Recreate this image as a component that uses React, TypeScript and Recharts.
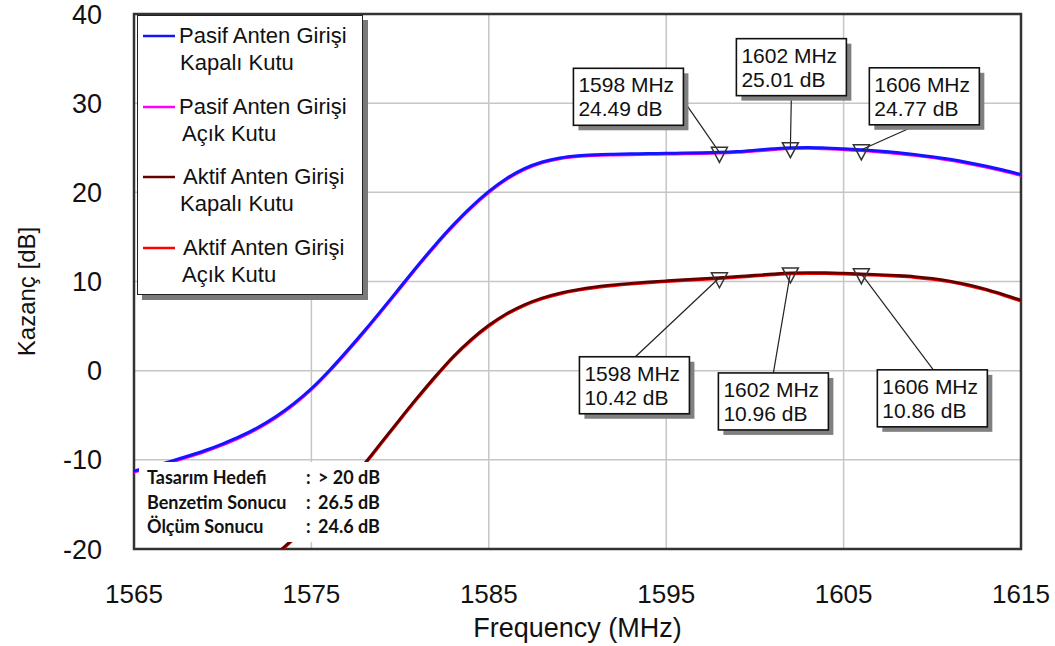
import React from "react";
import {
  LineChart,
  Line,
  XAxis,
  YAxis,
  CartesianGrid,
  ReferenceArea,
  ReferenceDot,
} from "recharts";

// frequency sweep, MHz
const frequencies = [
  1565, 1566, 1567, 1568, 1569, 1570, 1571, 1572, 1573, 1574,
  1575, 1576, 1577, 1578, 1579, 1580, 1581, 1582, 1583, 1584,
  1585, 1586, 1587, 1588, 1589, 1590, 1591, 1592, 1593, 1594,
  1595, 1596, 1597, 1598, 1599, 1600, 1601, 1602, 1603, 1604,
  1605, 1606, 1607, 1608, 1609, 1610, 1611, 1612, 1613, 1614,
  1615,
];

// gain in dB for each frequency
const pasifKapali = [
  -11.25, -10.75, -10.2, -9.6, -8.95, -8.2, -7.35, -6.35, -5.15, -3.7,
  -2.0, 0.0, 2.2, 4.5, 6.9, 9.35, 11.8, 14.15, 16.35, 18.35,
  20.1, 21.55, 22.65, 23.4, 23.85, 24.1, 24.22, 24.28, 24.32, 24.35,
  24.38, 24.41, 24.44, 24.49, 24.58, 24.72, 24.88, 25.01, 25.03, 24.97,
  24.88, 24.77, 24.63, 24.46, 24.25, 24.0, 23.7, 23.35, 22.95, 22.5,
  22.0,
];

const pasifAcik = [
  -11.4, -10.9, -10.35, -9.75, -9.1, -8.35, -7.5, -6.5, -5.3, -3.85,
  -2.15, -0.15, 2.05, 4.35, 6.75, 9.2, 11.65, 14.0, 16.2, 18.2,
  19.95, 21.42, 22.52, 23.28, 23.73, 23.98, 24.1, 24.16, 24.2, 24.23,
  24.26, 24.29, 24.32, 24.37, 24.46, 24.6, 24.76, 24.89, 24.91, 24.85,
  24.76, 24.65, 24.5, 24.33, 24.12, 23.87, 23.56, 23.21, 22.8, 22.35,
  21.85,
];

const aktifKapali = [
  null, null, null, null, null, null, null, null, -20.6, -18.8,
  -16.9, -14.8, -12.65, -10.4, -7.9, -5.4, -2.95, -0.6, 1.6, 3.5,
  5.1, 6.4, 7.4, 8.15, 8.7, 9.1, 9.4, 9.62, 9.8, 9.95,
  10.08, 10.2, 10.31, 10.42, 10.56, 10.7, 10.84, 10.96, 11.0, 10.98,
  10.93, 10.86, 10.78, 10.68, 10.55, 10.35, 10.05, 9.65, 9.15, 8.55,
  7.9,
];

const aktifAcik = [
  null, null, null, null, null, null, null, null, -20.75, -18.95,
  -17.05, -14.95, -12.8, -10.55, -8.05, -5.55, -3.1, -0.75, 1.45, 3.35,
  4.95, 6.27, 7.28, 8.03, 8.58, 8.98, 9.28, 9.5, 9.68, 9.83,
  9.96, 10.08, 10.19, 10.3, 10.44, 10.58, 10.72, 10.84, 10.88, 10.86,
  10.81, 10.74, 10.66, 10.56, 10.43, 10.23, 9.93, 9.53, 9.03, 8.43,
  7.78,
];

const xTicks = [1565, 1575, 1585, 1595, 1605, 1615];
const yTicks = [-20, -10, 0, 10, 20, 30, 40];

const markerFreqs = [1598, 1602, 1606];
const pasifMarkerGains = [24.49, 25.01, 24.77];
const aktifMarkerGains = [10.42, 10.96, 10.86];

const legendLabels = [
  ["Pasif Anten Girişi", "Kapalı Kutu"],
  ["Pasif Anten Girişi", "Açık Kutu"],
  ["Aktif Anten Girişi", "Kapalı Kutu"],
  ["Aktif Anten Girişi", "Açık Kutu"],
];

const summaryRows = [
  ["Tasarım Hedefi", "> 20 dB"],
  ["Benzetim Sonucu", "26.5 dB"],
  ["Ölçüm Sonucu", "24.6 dB"],
];

const COLORS = ["#1414ff", "#ff00ff", "#620000", "#ff0000"];
const FONT = "'Liberation Sans', Arial, sans-serif";

// callout box placement relative to each marker, plus where the leader leaves the box
const upperCallouts = [
  { dx: -146, dy: -84, ax: 110, ay: 32 },
  { dx: -54, dy: -109, ax: 55, ay: 57 },
  { dx: 8, dy: -82, ax: 48, ay: 57 },
];
const lowerCallouts = [
  { dx: -140, dy: 79, ax: 56, ay: 0 },
  { dx: -72, dy: 100, ax: 55, ay: 0 },
  { dx: 16, dy: 96, ax: 56, ay: 0 },
];

const BOX_W = 110;
const BOX_H = 57;

const data = frequencies.map((f, i) => ({
  f,
  pk: pasifKapali[i],
  pa: pasifAcik[i],
  ak: aktifKapali[i],
  aa: aktifAcik[i],
}));

type CalloutLayout = { dx: number; dy: number; ax: number; ay: number };

function Callout(props: {
  cx?: number;
  cy?: number;
  freq: number;
  gain: number;
  layout: CalloutLayout;
}) {
  const { cx, cy, freq, gain, layout } = props;
  if (cx == null || cy == null) return null;
  const bx = cx + layout.dx;
  const by = cy + layout.dy;
  return (
    <g fontFamily={FONT} fontSize={21} fill="#111">
      <line
        x1={bx + layout.ax}
        y1={by + layout.ay}
        x2={cx}
        y2={cy}
        stroke="#222"
        strokeWidth={1.2}
      />
      <rect x={bx + 5} y={by + 5} width={BOX_W} height={BOX_H} fill="#808080" />
      <rect
        x={bx}
        y={by}
        width={BOX_W}
        height={BOX_H}
        fill="#fff"
        stroke="#111"
        strokeWidth={1.6}
      />
      <text x={bx + 5} y={by + 24}>{`${freq} MHz`}</text>
      <text x={bx + 5} y={by + 48}>{`${gain.toFixed(2)} dB`}</text>
      <polygon
        points={`${cx - 8},${cy - 5} ${cx + 8},${cy - 5} ${cx},${cy + 10}`}
        fill="none"
        stroke="#333"
        strokeWidth={1.5}
      />
    </g>
  );
}

function YTick(props: { x?: number; y?: number; payload?: { value: number } }) {
  const { x, y, payload } = props;
  return (
    <text
      x={x}
      y={y}
      dy={9.5}
      textAnchor="end"
      fontFamily={FONT}
      fontSize={27}
      fill="#111"
    >
      {payload?.value}
    </text>
  );
}

function XTick(props: { x?: number; y?: number; payload?: { value: number } }) {
  const { x, y, payload } = props;
  return (
    <text
      x={x}
      y={y}
      dy={54}
      textAnchor="middle"
      fontFamily={FONT}
      fontSize={26}
      fill="#111"
    >
      {payload?.value}
    </text>
  );
}

function LegendBox() {
  const rows = [21, 92, 162, 233];
  const indents = [
    [42, 43],
    [42, 45],
    [46, 43],
    [46, 45],
  ];
  return (
    <div
      style={{
        position: "absolute",
        left: 137,
        top: 15,
        width: 226,
        height: 280,
        background: "#fff",
        border: "1.5px solid #222",
        boxShadow: "5px 5px 0 #7a7a7a",
        boxSizing: "border-box",
      }}
    >
      <svg width={226} height={280} style={{ position: "absolute", left: -1.5, top: -1.5 }}>
        {legendLabels.map((lines, i) => (
          <g key={i} fontFamily={FONT} fontSize={22} fill="#111">
            <line
              x1={6}
              x2={38}
              y1={rows[i]}
              y2={rows[i]}
              stroke={COLORS[i]}
              strokeWidth={2.5}
            />
            <text x={indents[i][0]} y={rows[i] + 7}>{lines[0]}</text>
            <text x={indents[i][1]} y={rows[i] + 34}>{lines[1]}</text>
          </g>
        ))}
      </svg>
    </div>
  );
}

function SummaryBox() {
  return (
    <div
      style={{
        position: "absolute",
        left: 139,
        top: 462,
        width: 262,
        height: 80,
        background: "#fff",
      }}
    >
      <svg width={262} height={80}>
        {summaryRows.map(([name, value], i) => (
          <g
            key={name}
            fontFamily="Lato, 'Open Sans', sans-serif"
            fontWeight={700}
            fontSize={18}
            fill="#111"
          >
            <text x={8} y={22 + i * 24.5}>{name}</text>
            <text x={167} y={22 + i * 24.5}>:</text>
            <text x={179} y={22 + i * 24.5}>{value}</text>
          </g>
        ))}
      </svg>
    </div>
  );
}

export default function App() {
  return (
    <div style={{ position: "relative", width: 1055, height: 646, background: "#fff" }}>
      <style>{"body{margin:0}"}</style>
      <LineChart
        width={1055}
        height={646}
        data={data}
        margin={{ top: 14, right: 34, bottom: 0, left: 0 }}
      >
        <CartesianGrid stroke="#c6c6c6" strokeWidth={1.5} />
        <XAxis
          dataKey="f"
          type="number"
          domain={[1565, 1615]}
          ticks={xTicks}
          allowDataOverflow
          height={97}
          tickLine={false}
          axisLine={false}
          tickSize={0}
          tickMargin={0}
          tick={<XTick />}
          label={{
            content: (p: any) => (
              <text
                x={p.viewBox.x + p.viewBox.width / 2}
                y={637}
                textAnchor="middle"
                fontFamily={FONT}
                fontSize={27}
                fill="#111"
              >
                Frequency (MHz)
              </text>
            ),
          }}
        />
        <YAxis
          type="number"
          domain={[-20, 40]}
          ticks={yTicks}
          allowDataOverflow
          width={134}
          tickLine={false}
          axisLine={false}
          tickSize={0}
          tickMargin={32}
          tick={<YTick />}
          label={{
            content: (p: any) => {
              const cy = p.viewBox.y + p.viewBox.height / 2 + 10;
              return (
                <text
                  x={0}
                  y={0}
                  transform={`translate(35, ${cy}) rotate(-90)`}
                  textAnchor="middle"
                  fontFamily={FONT}
                  fontSize={24}
                  fill="#111"
                >
                  Kazanç [dB]
                </text>
              );
            },
          }}
        />
        <Line
          type="monotone"
          dataKey="pa"
          stroke={COLORS[1]}
          strokeWidth={2.5}
          dot={false}
          activeDot={false}
          isAnimationActive={false}
        />
        <Line
          type="monotone"
          dataKey="pk"
          stroke={COLORS[0]}
          strokeWidth={3}
          dot={false}
          activeDot={false}
          isAnimationActive={false}
        />
        <Line
          type="monotone"
          dataKey="aa"
          stroke={COLORS[3]}
          strokeWidth={2.5}
          dot={false}
          activeDot={false}
          isAnimationActive={false}
        />
        <Line
          type="monotone"
          dataKey="ak"
          stroke={COLORS[2]}
          strokeWidth={2.8}
          dot={false}
          activeDot={false}
          isAnimationActive={false}
        />
        <ReferenceArea
          x1={1565}
          x2={1615}
          y1={-20}
          y2={40}
          fill="none"
          stroke="#333"
          strokeWidth={2.5}
          fillOpacity={0}
        />
        {markerFreqs.map((f, i) => (
          <ReferenceDot
            key={`u${f}`}
            x={f}
            y={pasifMarkerGains[i]}
            shape={(p: any) => (
              <Callout
                cx={p.cx}
                cy={p.cy}
                freq={f}
                gain={pasifMarkerGains[i]}
                layout={upperCallouts[i]}
              />
            )}
          />
        ))}
        {markerFreqs.map((f, i) => (
          <ReferenceDot
            key={`l${f}`}
            x={f}
            y={aktifMarkerGains[i]}
            shape={(p: any) => (
              <Callout
                cx={p.cx}
                cy={p.cy}
                freq={f}
                gain={aktifMarkerGains[i]}
                layout={lowerCallouts[i]}
              />
            )}
          />
        ))}
      </LineChart>
      <LegendBox />
      <SummaryBox />
    </div>
  );
}
